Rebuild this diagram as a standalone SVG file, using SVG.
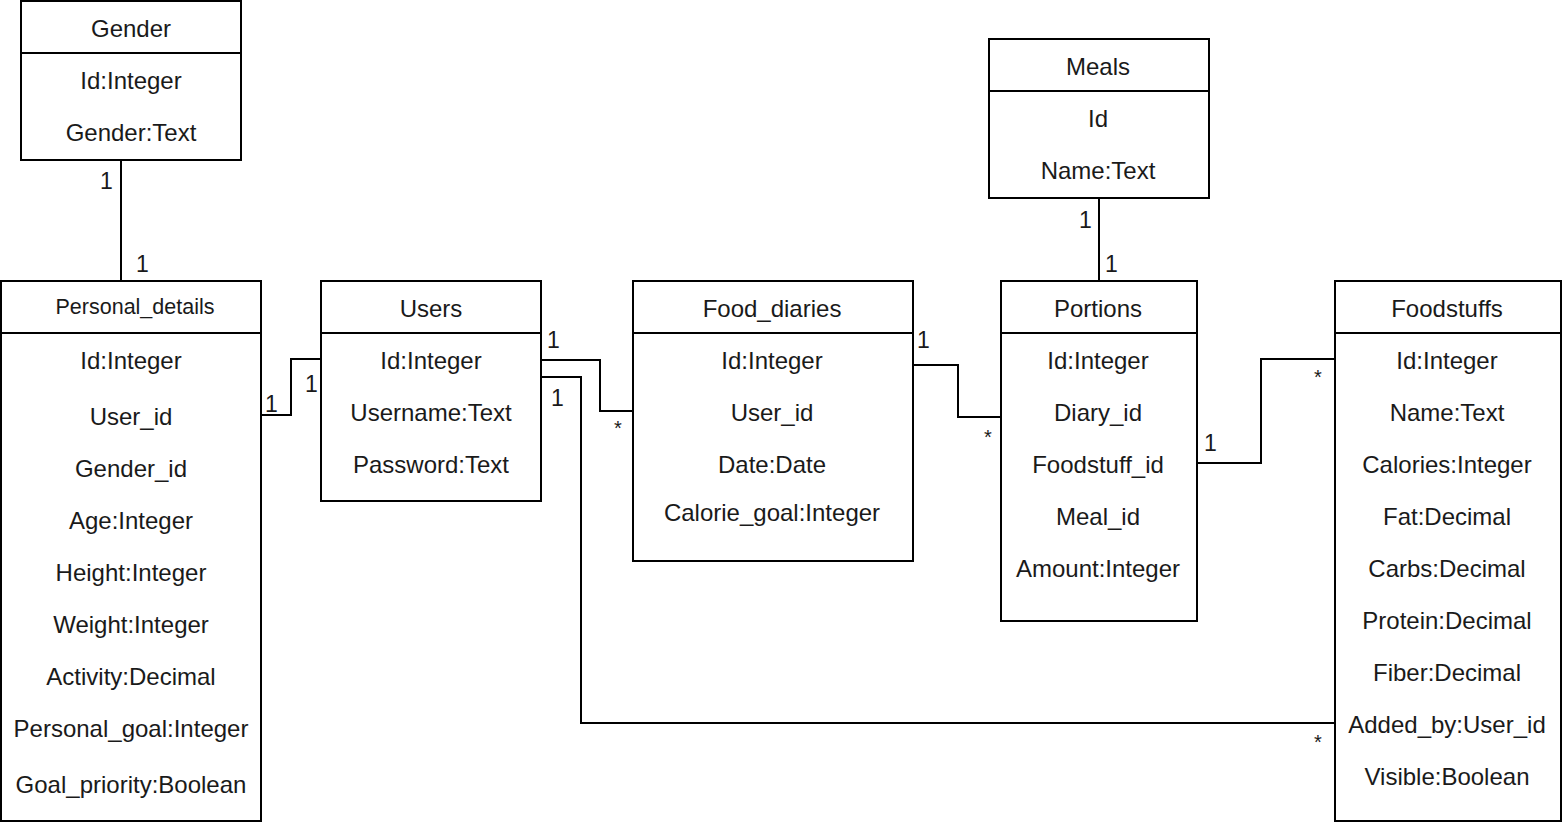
<svg xmlns="http://www.w3.org/2000/svg" width="1562" height="824" viewBox="0 0 1562 824">
<style>
.box{fill:#fff;stroke:#000;stroke-width:2}
.sep{stroke:#000;stroke-width:2}
.conn{fill:none;stroke:#000;stroke-width:2}
text{font-family:"Liberation Sans",Arial,sans-serif;fill:#1a1a1a}
.t{font-size:24px;text-anchor:middle;dominant-baseline:central}
.h2{font-size:21.5px;text-anchor:middle;dominant-baseline:central}
.lbl{font-size:23px;dominant-baseline:central}
.star{font-size:20px;dominant-baseline:central}
</style>
<rect width="1562" height="824" fill="#fff"/>
<g id="connectors">
<path class="conn" d="M121,160 V281"/>
<path class="conn" d="M261,415 H291 V359 H321"/>
<path class="conn" d="M541,360 H600 V411 H633"/>
<path class="conn" d="M541,377 H581 V723 H1335"/>
<path class="conn" d="M913,365 H958 V417 H1001"/>
<path class="conn" d="M1197,463 H1261 V359 H1335"/>
<path class="conn" d="M1099,198 V281"/>
<text class="lbl" x="100" y="181">1</text>
<text class="lbl" x="136" y="264">1</text>
<text class="lbl" x="265" y="404">1</text>
<text class="lbl" x="305" y="384">1</text>
<text class="lbl" x="547" y="340">1</text>
<text class="star" x="614" y="428">*</text>
<text class="lbl" x="551" y="398">1</text>
<text class="star" x="1314" y="742">*</text>
<text class="lbl" x="917" y="340">1</text>
<text class="star" x="984" y="437">*</text>
<text class="lbl" x="1204" y="443">1</text>
<text class="star" x="1314" y="377">*</text>
<text class="lbl" x="1079" y="220">1</text>
<text class="lbl" x="1105" y="264">1</text>
</g>
<g id="gender">
<rect class="box" x="21" y="1" width="220" height="159"/>
<line class="sep" x1="21" y1="53" x2="241" y2="53"/>
<text class="t" x="131" y="28">Gender</text>
<text class="t" x="131" y="80">Id:Integer</text>
<text class="t" x="131" y="132">Gender:Text</text>
</g>
<g id="personal_details">
<rect class="box" x="1" y="281" width="260" height="540"/>
<line class="sep" x1="1" y1="333" x2="261" y2="333"/>
<text class="h2" x="135" y="307">Personal_details</text>
<text class="t" x="131" y="360">Id:Integer</text>
<text class="t" x="131" y="416">User_id</text>
<text class="t" x="131" y="468">Gender_id</text>
<text class="t" x="131" y="520">Age:Integer</text>
<text class="t" x="131" y="572">Height:Integer</text>
<text class="t" x="131" y="624">Weight:Integer</text>
<text class="t" x="131" y="676">Activity:Decimal</text>
<text class="t" x="131" y="728">Personal_goal:Integer</text>
<text class="t" x="131" y="784">Goal_priority:Boolean</text>
</g>
<g id="users">
<rect class="box" x="321" y="281" width="220" height="220"/>
<line class="sep" x1="321" y1="333" x2="541" y2="333"/>
<text class="t" x="431" y="308">Users</text>
<text class="t" x="431" y="360">Id:Integer</text>
<text class="t" x="431" y="412">Username:Text</text>
<text class="t" x="431" y="464">Password:Text</text>
</g>
<g id="food_diaries">
<rect class="box" x="633" y="281" width="280" height="280"/>
<line class="sep" x1="633" y1="333" x2="913" y2="333"/>
<text class="t" x="772" y="308">Food_diaries</text>
<text class="t" x="772" y="360">Id:Integer</text>
<text class="t" x="772" y="412">User_id</text>
<text class="t" x="772" y="464">Date:Date</text>
<text class="t" x="772" y="512">Calorie_goal:Integer</text>
</g>
<g id="meals">
<rect class="box" x="989" y="39" width="220" height="159"/>
<line class="sep" x1="989" y1="91" x2="1209" y2="91"/>
<text class="t" x="1098" y="66">Meals</text>
<text class="t" x="1098" y="118">Id</text>
<text class="t" x="1098" y="170">Name:Text</text>
</g>
<g id="portions">
<rect class="box" x="1001" y="281" width="196" height="340"/>
<line class="sep" x1="1001" y1="333" x2="1197" y2="333"/>
<text class="t" x="1098" y="308">Portions</text>
<text class="t" x="1098" y="360">Id:Integer</text>
<text class="t" x="1098" y="412">Diary_id</text>
<text class="t" x="1098" y="464">Foodstuff_id</text>
<text class="t" x="1098" y="516">Meal_id</text>
<text class="t" x="1098" y="568">Amount:Integer</text>
</g>
<g id="foodstuffs">
<rect class="box" x="1335" y="281" width="226" height="540"/>
<line class="sep" x1="1335" y1="333" x2="1561" y2="333"/>
<text class="t" x="1447" y="308">Foodstuffs</text>
<text class="t" x="1447" y="360">Id:Integer</text>
<text class="t" x="1447" y="412">Name:Text</text>
<text class="t" x="1447" y="464">Calories:Integer</text>
<text class="t" x="1447" y="516">Fat:Decimal</text>
<text class="t" x="1447" y="568">Carbs:Decimal</text>
<text class="t" x="1447" y="620">Protein:Decimal</text>
<text class="t" x="1447" y="672">Fiber:Decimal</text>
<text class="t" x="1447" y="724">Added_by:User_id</text>
<text class="t" x="1447" y="776">Visible:Boolean</text>
</g>
</svg>
